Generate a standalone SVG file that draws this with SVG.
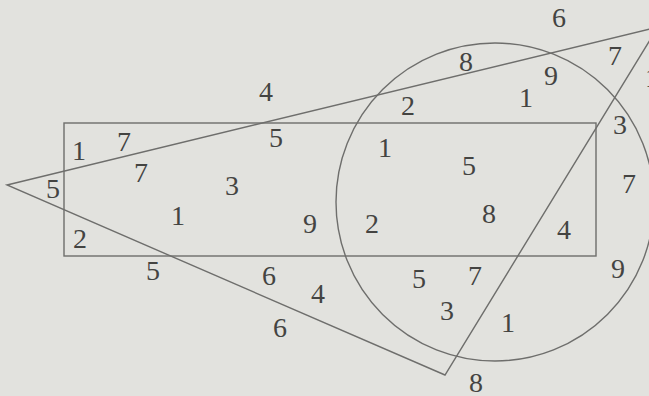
<svg xmlns="http://www.w3.org/2000/svg" width="649" height="396" viewBox="0 0 649 396">
<style>
.s{fill:none;stroke:#6e6e6c;stroke-width:1.4}
text{font-family:"Liberation Serif","Times New Roman",serif;font-size:28px;fill:#444442;text-anchor:middle}
</style>
<rect width="649" height="396" fill="#e2e2de"/>
<g id="rectangle"><rect class="s" x="64" y="123" width="532" height="133"/></g>
<g id="triangle"><polygon class="s" points="7,185 658,27 445,375"/></g>
<g id="circle"><circle class="s" cx="495" cy="202" r="159"/></g>
<g id="numbers">
<text x="559" y="27">6</text>
<text x="466" y="71">8</text>
<text x="551" y="85">9</text>
<text x="615" y="65">7</text>
<text x="652" y="87">1</text>
<text x="266" y="101">4</text>
<text x="408" y="115">2</text>
<text x="526" y="107">1</text>
<text x="620" y="134">3</text>
<text x="79" y="160">1</text>
<text x="124" y="151">7</text>
<text x="276" y="147">5</text>
<text x="385" y="157">1</text>
<text x="469" y="175">5</text>
<text x="141" y="182">7</text>
<text x="232" y="195">3</text>
<text x="629" y="193">7</text>
<text x="53" y="198">5</text>
<text x="178" y="225">1</text>
<text x="310" y="233">9</text>
<text x="372" y="233">2</text>
<text x="489" y="223">8</text>
<text x="564" y="239">4</text>
<text x="80" y="248">2</text>
<text x="153" y="280">5</text>
<text x="269" y="285">6</text>
<text x="318" y="303">4</text>
<text x="419" y="288">5</text>
<text x="475" y="285">7</text>
<text x="618" y="278">9</text>
<text x="447" y="320">3</text>
<text x="508" y="332">1</text>
<text x="280" y="337">6</text>
<text x="476" y="392">8</text>
</g>
</svg>
